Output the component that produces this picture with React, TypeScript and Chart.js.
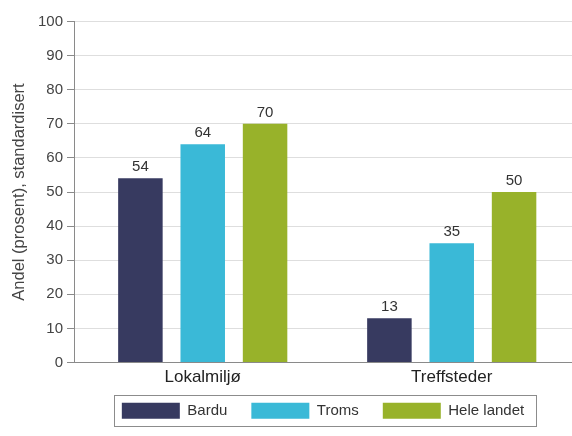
import React, { useEffect, useRef } from "react";
import { Chart, registerables } from "chart.js";

Chart.register(...registerables);

const categories = ["Lokalmiljø", "Treffsteder"];
const seriesNames = ["Bardu", "Troms", "Hele landet"];
const barduValues = [54, 13];
const tromsValues = [64, 35];
const heleLandetValues = [70, 50];
const seriesColors = ["#373a60", "#3ab9d7", "#98b22a"];
const yMin = 0;
const yMax = 100;
const yStep = 10;
const yTitle = "Andel (prosent), standardisert";

const FONT = "'Liberation Sans', Arial, Helvetica, sans-serif";

const valueLabels = {
  id: "valueLabels",
  afterDatasetsDraw(chart: any) {
    const ctx = chart.ctx;
    ctx.save();
    ctx.font = `15px ${FONT}`;
    ctx.fillStyle = "#333333";
    ctx.textAlign = "center";
    ctx.textBaseline = "alphabetic";
    chart.data.datasets.forEach((ds: any, di: number) => {
      const meta = chart.getDatasetMeta(di);
      meta.data.forEach((bar: any, i: number) => {
        ctx.fillText(String(ds.data[i]), bar.x, bar.y - 7);
      });
    });
    ctx.restore();
  },
};

const legendShift = {
  id: "legendShift",
  afterLayout(chart: any) {
    const lg = chart.legend;
    if (!lg) return;
    lg.top -= 7.3;
    lg.bottom -= 7.3;
  },
};

const legendFrame = {
  id: "legendFrame",
  afterDraw(chart: any) {
    const lg = chart.legend;
    if (!lg || !lg.legendHitBoxes || !lg.legendHitBoxes.length) return;
    const hb = lg.legendHitBoxes;
    let l = Infinity, t = Infinity, r = -Infinity, b = -Infinity;
    hb.forEach((h: any) => {
      l = Math.min(l, h.left);
      t = Math.min(t, h.top);
      r = Math.max(r, h.left + h.width);
      b = Math.max(b, h.top + h.height);
    });
    const ctx = chart.ctx;
    ctx.save();
    ctx.strokeStyle = "#8c8c8c";
    ctx.lineWidth = 1;
    ctx.strokeRect(Math.round(l - 8) + 0.5, Math.round(t - 8) + 0.5, Math.round(r - l + 20), Math.round(b - t + 15));
    ctx.restore();
  },
};

export default function App() {
  const ref = useRef<HTMLCanvasElement | null>(null);
  useEffect(() => {
    if (!ref.current) return;
    const values = [barduValues, tromsValues, heleLandetValues];
    const chart = new Chart(ref.current, {
      type: "bar",
      data: {
        labels: categories,
        datasets: seriesNames.map((name, i) => ({
          label: name,
          data: values[i],
          backgroundColor: seriesColors[i],
          borderWidth: 0,
          categoryPercentage: 0.751,
          barPercentage: 0.714,
        })),
      },
      options: {
        animation: false,
        responsive: true,
        maintainAspectRatio: false,
        layout: { padding: { top: 21.5, right: 0, bottom: 0, left: 0 } },
        font: { family: FONT },
        plugins: {
          tooltip: { enabled: false },
          legend: {
            position: "bottom",
            fullSize: false,
            labels: {
              boxWidth: 58,
              boxHeight: 16,
              padding: 24,
              color: "#333333",
              font: { size: 15, family: FONT },
            },
          },
        },
        scales: {
          x: {
            offset: true,
            grid: { display: false, drawTicks: false },
            border: { display: true, color: "#8a8a8a", width: 1 },
            ticks: { color: "#222222", padding: 5, font: { size: 17, family: FONT } },
            afterBuildTicks: (scale: any) => {
              scale._startValue = -0.517;
              scale._valueRange = 2.0;
            },
            afterFit: (scale: any) => {
              scale.height = 23.5;
            },
          },
          y: {
            min: yMin,
            max: yMax,
            ticks: { stepSize: yStep, color: "#444444", padding: 4, font: { size: 15, family: FONT } },
            grid: { color: "#dedede", tickColor: "#8a8a8a", tickLength: 7, lineWidth: 1 },
            border: { display: true, color: "#8a8a8a", width: 1 },
            title: {
              display: true,
              text: yTitle,
              color: "#444444",
              padding: { top: 10, bottom: 0 },
              font: { size: 16.5, family: FONT },
            },
            afterFit: (scale: any) => {
              scale.width = 74;
            },
          },
        },
      },
      plugins: [valueLabels, legendShift, legendFrame],
    });
    return () => chart.destroy();
  }, []);
  return (
    <div style={{ position: "fixed", left: 0, top: 0, width: 572, height: 436, background: "#ffffff" }}>
      <canvas ref={ref} />
    </div>
  );
}
